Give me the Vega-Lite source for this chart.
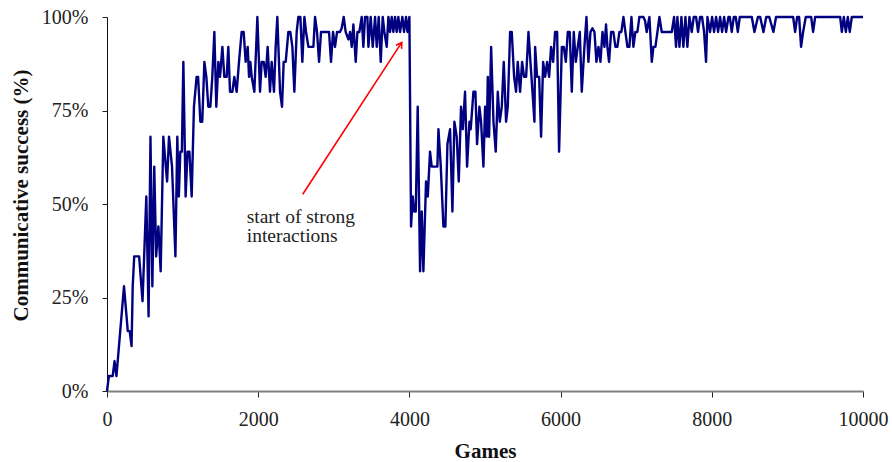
{
  "$schema": "https://vega.github.io/schema/vega-lite/v6.json",
  "width": 756,
  "height": 374,
  "autosize": {"type": "none"},
  "padding": {"left": 107, "top": 17, "right": 29, "bottom": 71},
  "config": {"view": {"stroke": null}, "font": "Liberation Serif"},
  "datasets": {
    "series": [
      {"g":0,"v":0},{"g":25,"v":4},{"g":75,"v":4},{"g":100,"v":8},{"g":125,"v":4},{"g":175,"v":16},{"g":225,"v":28},{"g":275,"v":16},{"g":300,"v":16},{"g":325,"v":12},{"g":340,"v":28},{"g":360,"v":36},{"g":425,"v":36},{"g":470,"v":24},{"g":520,"v":52},{"g":550,"v":20},{"g":575,"v":68},{"g":600,"v":28},{"g":625,"v":60},{"g":650,"v":36},{"g":680,"v":44},{"g":710,"v":32},{"g":745,"v":68},{"g":795,"v":56},{"g":820,"v":68},{"g":860,"v":60},{"g":905,"v":36},{"g":930,"v":68},{"g":950,"v":52},{"g":970,"v":64},{"g":990,"v":64},{"g":1010,"v":88},{"g":1040,"v":52},{"g":1065,"v":64},{"g":1090,"v":64},{"g":1120,"v":52},{"g":1150,"v":76},{"g":1185,"v":84},{"g":1205,"v":84},{"g":1235,"v":72},{"g":1260,"v":72},{"g":1288,"v":88},{"g":1314,"v":84},{"g":1340,"v":76},{"g":1367,"v":76},{"g":1393,"v":84},{"g":1420,"v":96},{"g":1446,"v":76},{"g":1473,"v":88},{"g":1495,"v":84},{"g":1526,"v":92},{"g":1552,"v":84},{"g":1583,"v":84},{"g":1605,"v":92},{"g":1627,"v":80},{"g":1658,"v":80},{"g":1684,"v":84},{"g":1715,"v":80},{"g":1746,"v":88},{"g":1781,"v":96},{"g":1808,"v":96},{"g":1834,"v":88},{"g":1861,"v":92},{"g":1879,"v":84},{"g":1896,"v":88},{"g":1914,"v":84},{"g":1949,"v":80},{"g":1989,"v":100},{"g":2024,"v":80},{"g":2046,"v":88},{"g":2073,"v":88},{"g":2099,"v":84},{"g":2125,"v":92},{"g":2156,"v":80},{"g":2178,"v":88},{"g":2209,"v":80},{"g":2231,"v":92},{"g":2253,"v":100},{"g":2289,"v":80},{"g":2315,"v":76},{"g":2337,"v":88},{"g":2364,"v":88},{"g":2399,"v":96},{"g":2425,"v":96},{"g":2452,"v":92},{"g":2478,"v":80},{"g":2509,"v":96},{"g":2531,"v":100},{"g":2558,"v":100},{"g":2584,"v":88},{"g":2611,"v":100},{"g":2633,"v":96},{"g":2664,"v":92},{"g":2699,"v":92},{"g":2730,"v":92},{"g":2752,"v":100},{"g":2778,"v":96},{"g":2805,"v":88},{"g":2831,"v":96},{"g":2862,"v":96},{"g":2906,"v":96},{"g":2937,"v":96},{"g":2963,"v":88},{"g":2990,"v":96},{"g":3016,"v":92},{"g":3043,"v":96},{"g":3082,"v":96},{"g":3104,"v":97},{"g":3131,"v":100},{"g":3157,"v":96},{"g":3193,"v":94},{"g":3215,"v":96},{"g":3237,"v":92},{"g":3259,"v":98},{"g":3290,"v":88},{"g":3312,"v":96},{"g":3338,"v":96},{"g":3369,"v":100},{"g":3391,"v":92},{"g":3413,"v":100},{"g":3444,"v":100},{"g":3458,"v":92},{"g":3488,"v":100},{"g":3515,"v":92},{"g":3546,"v":100},{"g":3568,"v":92},{"g":3594,"v":100},{"g":3621,"v":88},{"g":3647,"v":100},{"g":3669,"v":96},{"g":3700,"v":92},{"g":3722,"v":100},{"g":3744,"v":96},{"g":3766,"v":100},{"g":3788,"v":96},{"g":3810,"v":100},{"g":3832,"v":96},{"g":3854,"v":100},{"g":3876,"v":96},{"g":3907,"v":100},{"g":3929,"v":96},{"g":3956,"v":100},{"g":3974,"v":96},{"g":4000,"v":100},{"g":4022,"v":44},{"g":4044,"v":52},{"g":4062,"v":48},{"g":4084,"v":48},{"g":4110,"v":76},{"g":4141,"v":32},{"g":4163,"v":48},{"g":4185,"v":32},{"g":4220,"v":56},{"g":4243,"v":52},{"g":4273,"v":64},{"g":4295,"v":60},{"g":4317,"v":60},{"g":4344,"v":60},{"g":4370,"v":60},{"g":4384,"v":70},{"g":4415,"v":60},{"g":4450,"v":44},{"g":4476,"v":44},{"g":4503,"v":66},{"g":4538,"v":70},{"g":4569,"v":48},{"g":4595,"v":72},{"g":4626,"v":68},{"g":4653,"v":56},{"g":4683,"v":76},{"g":4706,"v":70},{"g":4736,"v":80},{"g":4763,"v":60},{"g":4794,"v":72},{"g":4811,"v":70},{"g":4847,"v":80},{"g":4873,"v":80},{"g":4895,"v":66},{"g":4926,"v":76},{"g":4948,"v":72},{"g":4979,"v":60},{"g":5001,"v":76},{"g":5023,"v":68},{"g":5037,"v":84},{"g":5054,"v":68},{"g":5081,"v":92},{"g":5112,"v":72},{"g":5142,"v":64},{"g":5169,"v":80},{"g":5195,"v":72},{"g":5222,"v":76},{"g":5248,"v":88},{"g":5279,"v":72},{"g":5301,"v":76},{"g":5332,"v":96},{"g":5354,"v":96},{"g":5385,"v":84},{"g":5411,"v":80},{"g":5433,"v":88},{"g":5464,"v":80},{"g":5491,"v":88},{"g":5517,"v":84},{"g":5544,"v":84},{"g":5575,"v":96},{"g":5601,"v":88},{"g":5628,"v":80},{"g":5654,"v":72},{"g":5663,"v":92},{"g":5689,"v":84},{"g":5716,"v":84},{"g":5742,"v":68},{"g":5769,"v":88},{"g":5795,"v":84},{"g":5822,"v":88},{"g":5848,"v":84},{"g":5874,"v":92},{"g":5901,"v":88},{"g":5927,"v":96},{"g":5954,"v":96},{"g":5980,"v":64},{"g":6016,"v":92},{"g":6042,"v":92},{"g":6069,"v":88},{"g":6095,"v":96},{"g":6121,"v":96},{"g":6148,"v":80},{"g":6174,"v":96},{"g":6201,"v":88},{"g":6227,"v":92},{"g":6254,"v":96},{"g":6280,"v":80},{"g":6315,"v":92},{"g":6342,"v":100},{"g":6368,"v":88},{"g":6395,"v":96},{"g":6421,"v":97},{"g":6448,"v":96},{"g":6474,"v":88},{"g":6501,"v":92},{"g":6527,"v":88},{"g":6554,"v":96},{"g":6580,"v":92},{"g":6601,"v":98},{"g":6619,"v":92},{"g":6641,"v":88},{"g":6668,"v":96},{"g":6698,"v":96},{"g":6725,"v":92},{"g":6751,"v":92},{"g":6778,"v":96},{"g":6804,"v":96},{"g":6831,"v":100},{"g":6857,"v":96},{"g":6884,"v":92},{"g":6910,"v":92},{"g":6937,"v":100},{"g":6963,"v":92},{"g":6989,"v":96},{"g":7016,"v":96},{"g":7042,"v":100},{"g":7069,"v":100},{"g":7095,"v":100},{"g":7117,"v":99},{"g":7139,"v":96},{"g":7175,"v":100},{"g":7206,"v":88},{"g":7228,"v":92},{"g":7254,"v":92},{"g":7281,"v":96},{"g":7307,"v":100},{"g":7338,"v":96},{"g":7360,"v":96},{"g":7470,"v":96},{"g":7501,"v":100},{"g":7527,"v":92},{"g":7545,"v":100},{"g":7572,"v":92},{"g":7598,"v":100},{"g":7624,"v":92},{"g":7651,"v":100},{"g":7677,"v":92},{"g":7704,"v":100},{"g":7735,"v":96},{"g":7761,"v":100},{"g":7792,"v":100},{"g":7818,"v":96},{"g":7845,"v":100},{"g":7871,"v":100},{"g":7898,"v":96},{"g":7924,"v":88},{"g":7942,"v":100},{"g":7977,"v":96},{"g":8004,"v":100},{"g":8030,"v":96},{"g":8057,"v":100},{"g":8083,"v":96},{"g":8110,"v":100},{"g":8136,"v":96},{"g":8163,"v":100},{"g":8189,"v":96},{"g":8220,"v":100},{"g":8238,"v":100},{"g":8264,"v":96},{"g":8291,"v":100},{"g":8317,"v":100},{"g":8344,"v":96},{"g":8370,"v":100},{"g":8529,"v":100},{"g":8564,"v":96},{"g":8610,"v":100},{"g":8640,"v":100},{"g":8683,"v":96},{"g":8720,"v":100},{"g":8760,"v":100},{"g":8815,"v":96},{"g":8850,"v":100},{"g":9076,"v":100},{"g":9102,"v":96},{"g":9129,"v":100},{"g":9155,"v":100},{"g":9181,"v":92},{"g":9208,"v":96},{"g":9243,"v":100},{"g":9314,"v":100},{"g":9340,"v":96},{"g":9367,"v":100},{"g":9698,"v":100},{"g":9720,"v":96},{"g":9746,"v":100},{"g":9773,"v":96},{"g":9799,"v":100},{"g":9825,"v":96},{"g":9852,"v":100},{"g":10000,"v":100}
    ],
    "note": [{"g": 1848, "v": 45.0, "t": "start of strong\ninteractions"}],
    "arrow": [{"g": 2589, "v": 52.6, "g2": 3899, "v2": 93.2}],
    "head": [{"g": 3899, "v": 93.2}]
  },
  "encoding": {
    "x": {
      "field": "g", "type": "quantitative", "title": "Games",
      "scale": {"domain": [0, 10000], "nice": false, "zero": false},
      "axis": {
        "values": [0, 2000, 4000, 6000, 8000, 10000], "format": "d",
        "grid": false, "domainColor": "#808080", "domainWidth": 2,
        "tickColor": "#222222", "tickSize": 6, "tickWidth": 1,
        "labelFont": "Liberation Serif", "labelFontSize": 20, "labelColor": "#222222",
        "labelPadding": 12, "labelFlush": false,
        "titleFont": "Liberation Serif", "titleFontSize": 21, "titleFontWeight": "bold",
        "titleColor": "#111111", "titleBaseline": "alphabetic", "titleY": 66
      }
    },
    "y": {
      "field": "v", "type": "quantitative", "title": "Communicative success (%)",
      "scale": {"domain": [0, 100], "nice": false},
      "axis": {
        "values": [0, 25, 50, 75, 100], "labelExpr": "datum.value + '%'",
        "grid": false, "domainColor": "#111111", "domainWidth": 1,
        "tickColor": "#222222", "tickSize": 5, "tickWidth": 1,
        "labelFont": "Liberation Serif", "labelFontSize": 20, "labelColor": "#222222",
        "labelPadding": 14,
        "titleFont": "Liberation Serif", "titleFontSize": 21, "titleFontWeight": "bold",
        "titleColor": "#111111", "titleAngle": -90, "titleBaseline": "alphabetic",
        "titleAlign": "center", "titleX": -80, "titleY": 178
      }
    }
  },
  "layer": [
    {
      "data": {"name": "series"},
      "mark": {"type": "line", "color": "#000080", "strokeWidth": 2.4, "strokeJoin": "round", "interpolate": "linear"}
    },
    {
      "data": {"name": "arrow"},
      "mark": {"type": "rule", "color": "#ff0000", "strokeWidth": 1.6},
      "encoding": {"x2": {"field": "g2"}, "y2": {"field": "v2"}}
    },
    {
      "data": {"name": "head"},
      "mark": {"type": "point", "shape": "M -0.55 0.9 L 0 0 L 0.55 0.9", "filled": false, "stroke": "#ff0000", "strokeWidth": 1.6, "size": 150, "angle": 33, "opacity": 1}
    },
    {
      "data": {"name": "note"},
      "mark": {"type": "text", "align": "left", "baseline": "alphabetic", "font": "Liberation Serif", "fontSize": 19.5, "lineBreak": "\n", "lineHeight": 19.5, "color": "#222222"},
      "encoding": {"text": {"field": "t"}}
    }
  ]
}
